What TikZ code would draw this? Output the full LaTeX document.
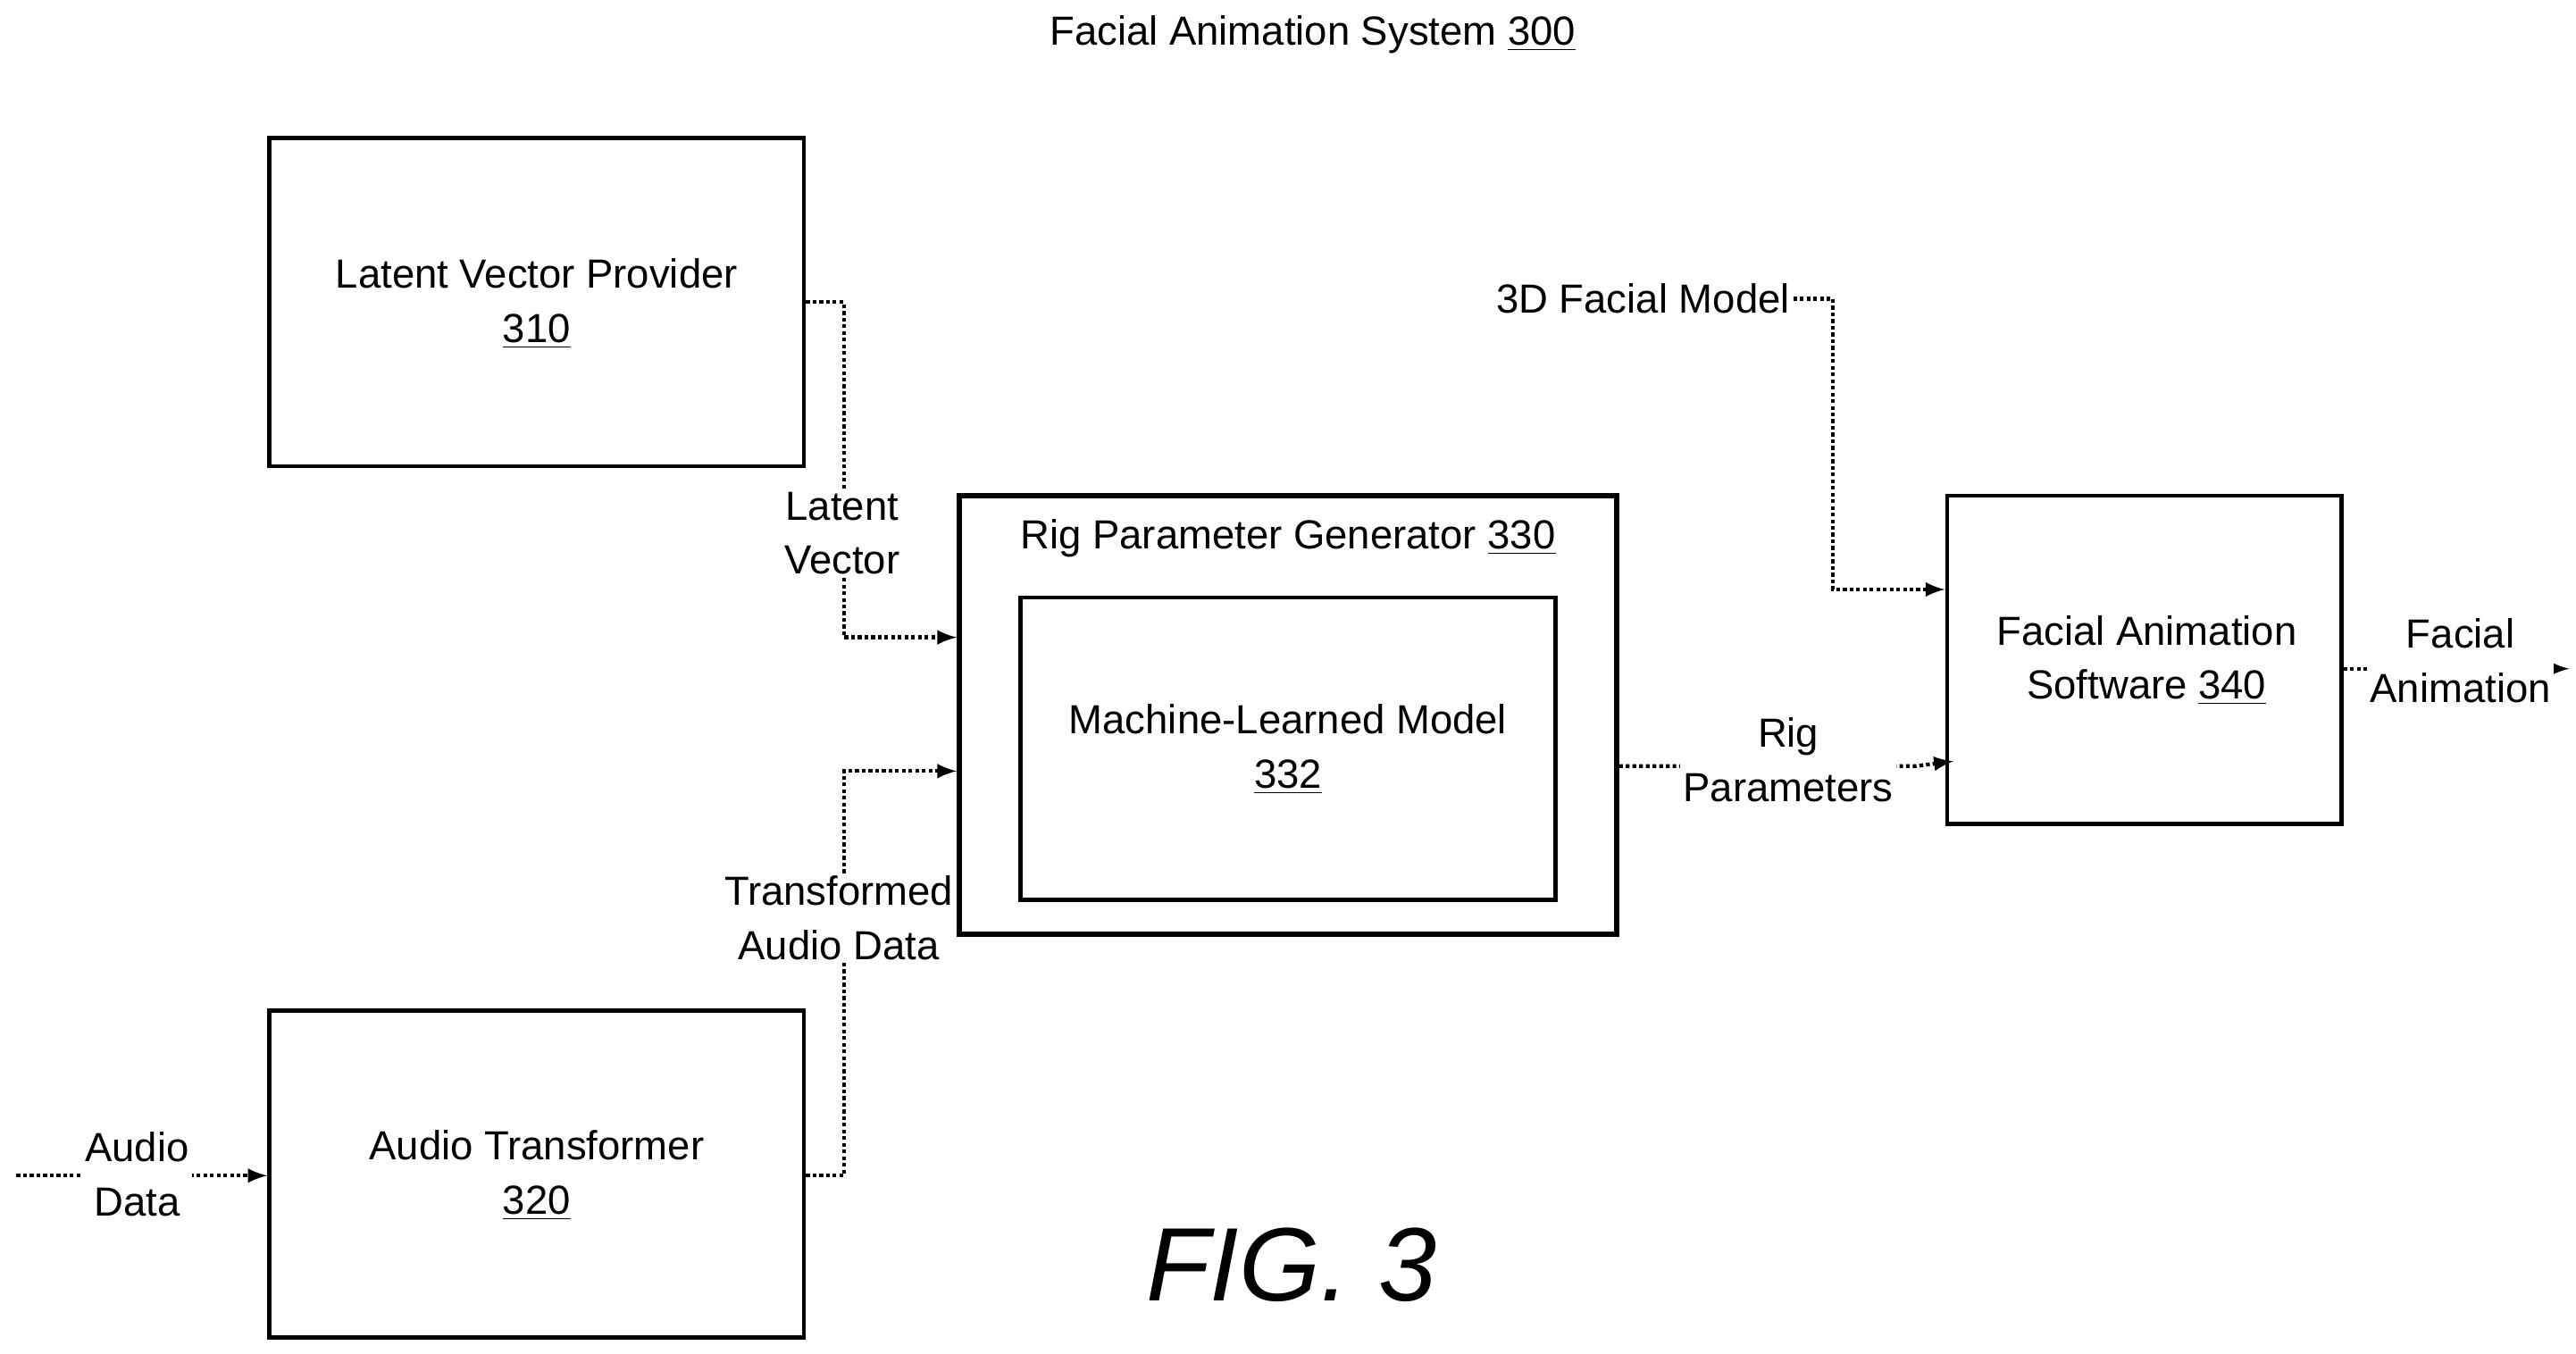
\documentclass[tikz,border=0pt]{standalone}
\usepackage{fontspec}
\setmainfont{Liberation Sans}
\usetikzlibrary{calc,arrows.meta}

\begin{document}
\begin{tikzpicture}[x=0.02cm,y=-0.02cm,
    every node/.style={font=\fontsize{14}{18.7}\selectfont},
    blk/.style={draw,line width=1.3pt,inner sep=0pt},
    flow/.style={densely dotted,line width=1.3pt},
    lbl/.style={fill=white,inner sep=1pt,align=center}]
  \useasboundingbox (0,0) rectangle (1560,820);

  %% Title
  \node (TITLE) at (795,21) {Facial Animation System \underline{300}};

  %% Boxes
  \node[blk,minimum width=6.48cm,minimum height=3.98cm] (LVP) at (325,183) {};
  \node[align=center] at (325,184) {Latent Vector Provider\\\underline{310}};
  \node[blk,minimum width=6.48cm,minimum height=3.96cm] (AT) at (325,711) {};
  \node[align=center] at (325,712) {Audio Transformer\\\underline{320}};
  \node[blk,line width=1.8pt,minimum width=7.96cm,minimum height=5.32cm] (RPG) at (780,433) {};
  \node at (780,326) {Rig Parameter Generator \underline{330}};
  \node[blk,minimum width=6.48cm,minimum height=3.66cm] (MLM) at (780,453.5) {};
  \node[align=center] at (780,454) {Machine-Learned Model\\\underline{332}};
  \node[blk,minimum width=4.78cm,minimum height=3.98cm] (FAS) at (1298.5,399.5) {};
  \node[align=center] at (1300,400) {Facial Animation\\Software \underline{340}};

  %% Connectors
  \coordinate (LVin) at (RPG.west|-0,386);
  \coordinate (ATin) at (RPG.west|-0,467);
  \draw[flow,-latex] (LVP.east|-0,183) -- (511,183) -- (511,386) -- (LVin);
  \node[lbl] (LV) at (510,323) {Latent\\Vector};
  \draw[flow,-latex] (AT.east|-0,712) -- (511,712) -- (511,467) -- (ATin);
  \node[lbl] (TAD) at (508,556) {Transformed\\Audio Data};

  \coordinate (AUDIN) at (10,712);
  \draw[flow,-latex] (AUDIN) -- (AT.west|-AUDIN);
  \node[lbl] (AUD) at (83,711) {Audio\\Data};

  \node[inner sep=1pt] (MODEL) at (995,181) {3D Facial Model};
  \draw[flow,-latex] (MODEL.east) -- (1110,181) -- (1110,357) -- (FAS.west|-0,357);

  \coordinate (RPout) at (RPG.east|-0,464);
  \draw[flow,-latex] (RPout) -- (1160,464) -- (1183,461);
  \node[lbl] (RP) at (1083,460) {Rig\\Parameters};

  \coordinate (FAout) at (1556,405);
  \draw[flow,-latex] (FAS.east|-FAout) -- (FAout);
  \node[lbl] (FA) at (1490,400) {Facial\\Animation};

  %% Figure label
  \node[font=\fontsize{36}{40}\selectfont\itshape] (FIG) at (782,766) {FIG. 3};
\end{tikzpicture}
\end{document}
